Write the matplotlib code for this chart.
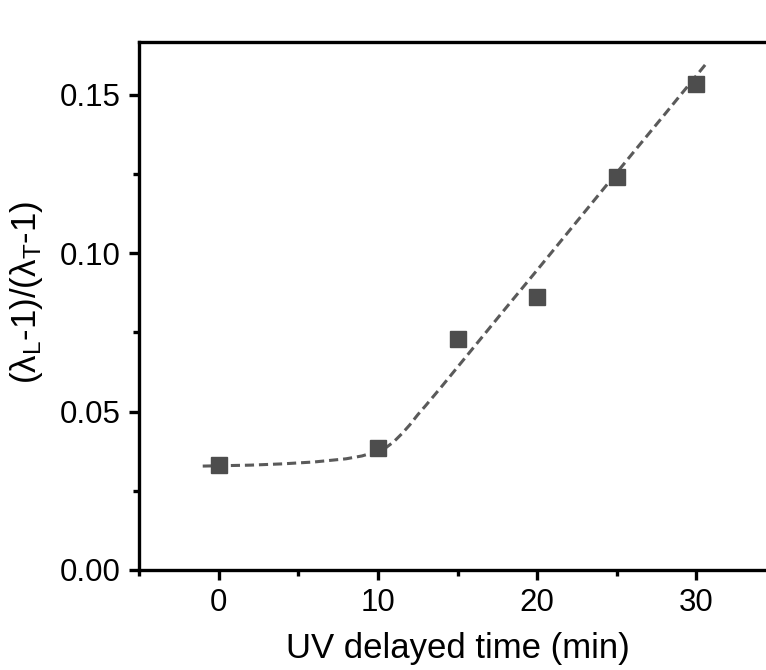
import numpy as np
import matplotlib.pyplot as plt
from matplotlib import ticker

# measured points
delay_min = [0, 10, 15, 20, 25, 30]
ratio = [0.0332, 0.0386, 0.0730, 0.0862, 0.1240, 0.1533]

# dashed fit curve
fit_x = [-1, 0, 2, 4, 6, 8, 9, 10, 10.5, 11, 11.5, 12, 12.5, 13,
         14, 16, 18, 20, 22, 24, 26, 28, 30, 30.6]
fit_y = [0.0328, 0.0329, 0.0331, 0.0335, 0.0341, 0.0351, 0.0360, 0.0375,
         0.0386, 0.0405, 0.0430, 0.0458, 0.0490, 0.0519,
         0.0579, 0.0702, 0.0825, 0.0947, 0.1070, 0.1193, 0.1316, 0.1438,
         0.1561, 0.1598]

plt.rcParams['font.family'] = ['Liberation Sans', 'DejaVu Sans']
plt.rcParams['mathtext.fontset'] = 'custom'
plt.rcParams['mathtext.rm'] = 'Liberation Sans'
plt.rcParams['mathtext.it'] = 'Liberation Sans:italic'

fig = plt.figure(figsize=(7.66, 6.70), dpi=100, facecolor='white')
ax = fig.add_axes([0.1815, 0.1493, 0.8316, 0.788])

ax.plot(fit_x, fit_y, color='#5a5a5a', lw=2.2, ls=(0, (3, 1.6)), zorder=2)
ax.plot(delay_min, ratio, ls='none', marker='s', markersize=11,
        color='#4d4d4d', markeredgecolor='#4d4d4d', zorder=3)

ax.set_xlim(-5, 35)
ax.set_ylim(0, 0.1667)
ax.xaxis.set_major_locator(ticker.MultipleLocator(10))
ax.xaxis.set_minor_locator(ticker.MultipleLocator(5))
ax.yaxis.set_major_locator(ticker.MultipleLocator(0.05))
ax.yaxis.set_minor_locator(ticker.MultipleLocator(0.025))
ax.yaxis.set_major_formatter(ticker.FormatStrFormatter('%.2f'))

ax.tick_params(axis='both', which='major', direction='out', length=7, width=2.4,
               labelsize=22.5, pad=6)
ax.tick_params(axis='both', which='minor', direction='out', length=4, width=2.4)

for spine in ax.spines.values():
    spine.set_linewidth(2.4)
    spine.set_color('black')

ax.set_xlabel('UV delayed time (min)', fontsize=25, labelpad=10)
ax.set_ylabel(r'(λ$_{\mathrm{L}}$-1)/(λ$_{\mathrm{T}}$-1)', fontsize=25)
ax.yaxis.set_label_coords(-0.148, 0.525)

plt.savefig('out.png', dpi=100, facecolor='white')
plt.close()
